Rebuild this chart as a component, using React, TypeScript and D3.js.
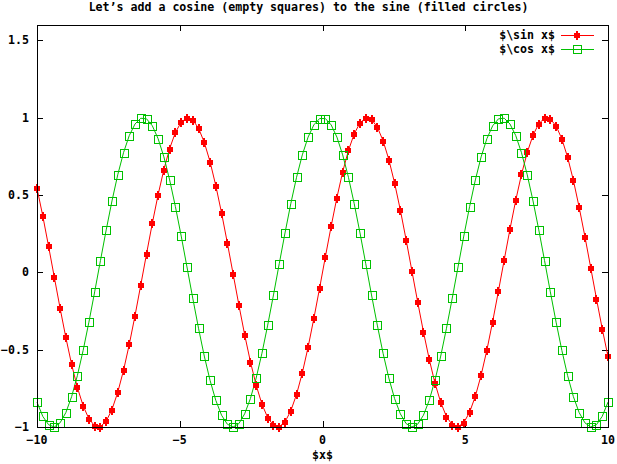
import React from "react";
import * as d3 from "d3";

const xValues = [
  -10, -9.798, -9.596, -9.394, -9.192, -8.99, -8.788, -8.586, -8.384, -8.182,
  -7.98, -7.778, -7.576, -7.374, -7.172, -6.97, -6.768, -6.566, -6.364, -6.162,
  -5.96, -5.758, -5.556, -5.354, -5.152, -4.949, -4.747, -4.545, -4.343, -4.141,
  -3.939, -3.737, -3.535, -3.333, -3.131, -2.929, -2.727, -2.525, -2.323, -2.121,
  -1.919, -1.717, -1.515, -1.313, -1.111, -0.909, -0.707, -0.505, -0.303, -0.101,
  0.101, 0.303, 0.505, 0.707, 0.909, 1.111, 1.313, 1.515, 1.717, 1.919,
  2.121, 2.323, 2.525, 2.727, 2.929, 3.131, 3.333, 3.535, 3.737, 3.939,
  4.141, 4.343, 4.545, 4.747, 4.949, 5.152, 5.354, 5.556, 5.758, 5.96,
  6.162, 6.364, 6.566, 6.768, 6.97, 7.172, 7.374, 7.576, 7.778, 7.98,
  8.182, 8.384, 8.586, 8.788, 8.99, 9.192, 9.394, 9.596, 9.798, 10,
];

const sinValues = [
  0.544, 0.365, 0.17, -0.031, -0.231, -0.421, -0.595, -0.744, -0.863, -0.947,
  -0.992, -0.997, -0.962, -0.887, -0.776, -0.634, -0.466, -0.279, -0.08, 0.121,
  0.318, 0.502, 0.665, 0.801, 0.905, 0.972, 0.999, 0.986, 0.933, 0.841,
  0.716, 0.561, 0.384, 0.191, -0.01, -0.211, -0.403, -0.578, -0.73, -0.852,
  -0.94, -0.989, -0.998, -0.967, -0.896, -0.789, -0.65, -0.484, -0.298, -0.101,
  0.101, 0.298, 0.484, 0.65, 0.789, 0.896, 0.967, 0.998, 0.989, 0.94,
  0.852, 0.73, 0.578, 0.403, 0.211, 0.01, -0.191, -0.384, -0.561, -0.716,
  -0.841, -0.933, -0.986, -0.999, -0.972, -0.905, -0.801, -0.665, -0.502, -0.318,
  -0.121, 0.08, 0.279, 0.466, 0.634, 0.776, 0.887, 0.962, 0.997, 0.992,
  0.947, 0.863, 0.744, 0.595, 0.421, 0.231, 0.031, -0.17, -0.365, -0.544,
];

const cosValues = [
  -0.839, -0.931, -0.985, -1.0, -0.973, -0.907, -0.804, -0.668, -0.505, -0.322,
  -0.126, 0.076, 0.275, 0.462, 0.631, 0.774, 0.885, 0.96, 0.997, 0.993,
  0.948, 0.865, 0.747, 0.598, 0.425, 0.235, 0.035, -0.166, -0.361, -0.541,
  -0.698, -0.828, -0.924, -0.982, -1.0, -0.978, -0.915, -0.816, -0.683, -0.523,
  -0.341, -0.146, 0.056, 0.255, 0.444, 0.615, 0.76, 0.875, 0.954, 0.995,
  0.995, 0.954, 0.875, 0.76, 0.615, 0.444, 0.255, 0.056, -0.146, -0.341,
  -0.523, -0.683, -0.816, -0.915, -0.978, -1.0, -0.982, -0.924, -0.828, -0.698,
  -0.541, -0.361, -0.166, 0.035, 0.235, 0.425, 0.598, 0.747, 0.865, 0.948,
  0.993, 0.997, 0.96, 0.885, 0.774, 0.631, 0.462, 0.275, 0.076, -0.126,
  -0.322, -0.505, -0.668, -0.804, -0.907, -0.973, -1.0, -0.985, -0.931, -0.839,
];

const xTicks = [-10, -5, 0, 5, 10];
const yTicks = [-1, -0.5, 0, 0.5, 1, 1.5];
const titleText = "Let\u2019s add a cosine (empty squares) to the sine (filled circles)";
const xLabel = "$x$";
const seriesNames = ["$\\sin x$", "$\\cos x$"];

const W = 617;
const H = 464;
const L = 37;
const R = 608;
const T = 25;
const B = 427;
const RED = "#ff0000";
const GREEN = "#00c000";
const FONT = "'DejaVu Sans Mono', monospace";

function FilledMark({ cx, cy }: { cx: number; cy: number }) {
  const x = Math.round(cx);
  const y = Math.round(cy);
  return (
    <g fill={RED} shapeRendering="crispEdges">
      <rect x={x - 3} y={y - 2} width={6} height={5} />
      <rect x={x - 1} y={y - 4} width={2} height={9} />
    </g>
  );
}

function EmptyMark({ cx, cy }: { cx: number; cy: number }) {
  const x = Math.round(cx);
  const y = Math.round(cy);
  return (
    <rect
      x={x - 3.5}
      y={y - 3.5}
      width={8}
      height={8}
      fill="none"
      stroke={GREEN}
      strokeWidth={1}
      shapeRendering="crispEdges"
    />
  );
}

export default function App() {
  const x = d3.scaleLinear().domain([-10, 10]).range([L, R]);
  const y = d3.scaleLinear().domain([-1, 1.6]).range([B, T]);

  const sinPts: [number, number][] = xValues.map((v, i) => [v, sinValues[i]]);
  const cosPts: [number, number][] = xValues.map((v, i) => [v, cosValues[i]]);
  const line = d3
    .line<[number, number]>()
    .x((d) => x(d[0]))
    .y((d) => y(d[1]));

  const tickLen = 6;
  const fontSize = 11.6;

  return (
    <svg
      width={W}
      height={H}
      style={{ position: "absolute", left: 0, top: 0, background: "#fff" }}
      fontFamily={FONT}
      fontWeight="bold"
      fontSize={fontSize}
    >
      <rect x={0} y={0} width={W} height={H} fill="#fff" />
      <text x={W / 2} y={11} textAnchor="middle" fill="#000">
        {titleText}
      </text>

      {/* ticks */}
      <g stroke="#000" strokeWidth={1} shapeRendering="crispEdges">
        {yTicks.map((t) => {
          const yy = Math.round(y(t)) + 0.5;
          return (
            <g key={"y" + t}>
              <line x1={L} x2={L + tickLen} y1={yy} y2={yy} />
              <line x1={R - tickLen} x2={R} y1={yy} y2={yy} />
            </g>
          );
        })}
        {xTicks.map((t) => {
          const xx = Math.round(x(t)) + 0.5;
          return (
            <g key={"x" + t}>
              <line x1={xx} x2={xx} y1={B} y2={B - tickLen} />
              <line x1={xx} x2={xx} y1={T} y2={T + tickLen} />
            </g>
          );
        })}
      </g>

      {yTicks.map((t) => (
        <text key={"yl" + t} x={29} y={y(t) + 4} textAnchor="end" fill="#000">
          {d3.format("")(t)}
        </text>
      ))}
      {xTicks.map((t) => (
        <text key={"xl" + t} x={x(t)} y={444} textAnchor="middle" fill="#000">
          {d3.format("")(t)}
        </text>
      ))}
      <text x={(L + R) / 2} y={459} textAnchor="middle" fill="#000">
        {xLabel}
      </text>

      {/* series */}
      <path d={line(sinPts) || ""} fill="none" stroke={RED} strokeWidth={1} />
      <path d={line(cosPts) || ""} fill="none" stroke={GREEN} strokeWidth={1} />
      {sinPts.map((d, i) => (
        <FilledMark key={"s" + i} cx={x(d[0])} cy={y(d[1])} />
      ))}
      {cosPts.map((d, i) => (
        <EmptyMark key={"c" + i} cx={x(d[0])} cy={y(d[1])} />
      ))}

      {/* legend */}
      <text x={555} y={39} textAnchor="end" fill="#000">
        {seriesNames[0]}
      </text>
      <line x1={561} x2={594} y1={35.5} y2={35.5} stroke={RED} strokeWidth={1} />
      <FilledMark cx={577} cy={35} />
      <text x={555} y={53} textAnchor="end" fill="#000">
        {seriesNames[1]}
      </text>
      <line x1={561} x2={594} y1={49.5} y2={49.5} stroke={GREEN} strokeWidth={1} />
      <EmptyMark cx={577} cy={49} />

      {/* frame */}
      <rect
        x={L + 0.5}
        y={T + 0.5}
        width={R - L}
        height={B - T}
        fill="none"
        stroke="#000"
        strokeWidth={1}
        shapeRendering="crispEdges"
      />
    </svg>
  );
}
